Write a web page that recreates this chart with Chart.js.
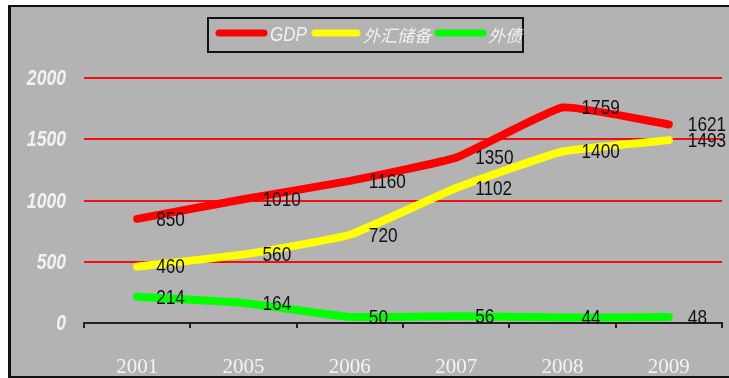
<!DOCTYPE html>
<html>
<head>
<meta charset="utf-8">
<style>
  html, body { margin: 0; padding: 0; background: #fff; }
  #chart { display: block; }
</style>
<script src="https://cdn.jsdelivr.net/npm/chart.js@4.4.1/dist/chart.umd.min.js"></script>
</head>
<body>
<canvas id="chart" width="729" height="378"></canvas>
<script>
const years = ['2001', '2005', '2006', '2007', '2008', '2009'];
const gdp = [850, 1010, 1160, 1350, 1759, 1621];
const reserves = [460, 560, 720, 1102, 1400, 1493];
const debt = [214, 164, 50, 56, 44, 48];
const seriesNames = ['GDP', '外汇储备', '外债'];
const seriesColors = ['#ff0000', '#ffff00', '#00ff00'];
const yTicks = [0, 500, 1000, 1500, 2000];

const sans = '"Liberation Sans", Arial, sans-serif';
const bg = '#b3b3b3';

// Arial squeezed sideways, to get a narrow face
function narrowText(c, text, x, y, align, squeeze) {
    c.save();
    c.translate(x, y);
    c.scale(squeeze, 1);
    c.textAlign = align;
    c.fillText(text, 0, 0);
    c.restore();
}

// gray panel with black frame on left, top and bottom
const framePlugin = {
    id: 'frame',
    beforeDraw(chart) {
        const c = chart.ctx;
        c.save();
        c.fillStyle = '#fff';
        c.fillRect(0, 0, chart.width, chart.height);
        c.fillStyle = bg;
        c.fillRect(8, 5, chart.width - 8, chart.height - 5);
        c.fillStyle = '#111';
        c.fillRect(8, 5, 3, chart.height - 5);
        c.fillRect(8, 5, chart.width - 8, 2);
        c.fillRect(8, chart.height - 2, chart.width - 8, 2);
        c.restore();
    }
};

// y tick numbers, bold italic and narrow
const yLabels = {
    id: 'yLabels',
    afterDraw(chart) {
        const c = chart.ctx;
        const y = chart.scales.y;
        c.save();
        c.font = 'italic bold 22px ' + sans;
        c.fillStyle = '#f2f2f2';
        c.textBaseline = 'middle';
        yTicks.forEach(v => {
            narrowText(c, String(v), 66, y.getPixelForValue(v) + 1, 'right', 0.8);
        });
        c.restore();
    }
};

// value next to every point, right of it
const valueLabels = {
    id: 'valueLabels',
    afterDatasetsDraw(chart) {
        const c = chart.ctx;
        c.save();
        c.font = '21px ' + sans;
        c.fillStyle = '#111';
        c.textBaseline = 'middle';
        chart.data.datasets.forEach((ds, i) => {
            chart.getDatasetMeta(i).data.forEach((pt, j) => {
                narrowText(c, String(ds.data[j]), pt.x + 19, pt.y + 1, 'left', 0.82);
            });
        });
        c.restore();
    }
};

// boxed legend above the plot
const boxLegend = {
    id: 'boxLegend',
    afterDraw(chart) {
        const c = chart.ctx;
        c.save();
        c.strokeStyle = '#111';
        c.lineWidth = 2;
        c.strokeRect(208, 18, 315, 34);
        const items = [
            { x: 219, len: 45, tx: 270 },
            { x: 315, len: 42, tx: 363 },
            { x: 438, len: 45, tx: 488 }
        ];
        items.forEach((it, i) => {
            c.strokeStyle = seriesColors[i];
            c.lineWidth = 7;
            c.lineCap = 'round';
            c.beginPath();
            c.moveTo(it.x, 33);
            c.lineTo(it.x + it.len, 33);
            c.stroke();
            c.fillStyle = '#f2f2f2';
            c.textBaseline = 'middle';
            if (i === 0) {
                c.font = 'italic 20px ' + sans;
                narrowText(c, seriesNames[i], it.tx, 35, 'left', 0.85);
            } else {
                c.font = 'italic 17px "Noto Sans CJK SC", sans-serif';
                narrowText(c, seriesNames[i], it.tx, 36, 'left', 1);
            }
        });
        c.restore();
    }
};

function makeSet(label, data, color) {
    return {
        label: label,
        data: data,
        borderColor: color,
        backgroundColor: color,
        borderWidth: 8,
        borderCapStyle: 'round',
        borderJoinStyle: 'round',
        pointRadius: 0,
        tension: 0.12
    };
}

const ctx = document.getElementById('chart').getContext('2d');
const chart = new Chart(ctx, {
    type: 'line',
    data: {
        labels: years,
        datasets: [
            makeSet(seriesNames[0], gdp, seriesColors[0]),
            makeSet(seriesNames[1], reserves, seriesColors[1]),
            makeSet(seriesNames[2], debt, seriesColors[2])
        ]
    },
    options: {
        responsive: false,
        devicePixelRatio: 1,
        animation: false,
        layout: { padding: { left: 0, right: 7, top: 78, bottom: 0 } },
        plugins: {
            legend: { display: false },
            tooltip: { enabled: false }
        },
        scales: {
            x: {
                offset: true,
                afterFit: function (scale) { scale.height = 55; },
                border: { display: true, color: '#222', width: 2 },
                grid: {
                    offset: true,
                    drawOnChartArea: false,
                    drawTicks: true,
                    tickLength: 5,
                    color: '#222',
                    lineWidth: 2
                },
                ticks: {
                    color: '#f4f4f4',
                    padding: 27,
                    font: { family: '"Liberation Serif", serif', size: 21 }
                }
            },
            y: {
                min: 0,
                max: 2000,
                afterFit: function (scale) { scale.width = 84; },
                afterBuildTicks: function (scale) {
                    scale.ticks = yTicks.map(v => ({ value: v }));
                },
                border: { display: false },
                grid: {
                    drawTicks: false,
                    color: function (context) {
                        return context.tick.value === 0 ? 'rgba(0,0,0,0)' : '#f01010';
                    },
                    lineWidth: 2
                },
                ticks: { display: false }
            }
        }
    },
    plugins: [framePlugin, valueLabels, boxLegend, yLabels]
});
</script>
</body>
</html>
